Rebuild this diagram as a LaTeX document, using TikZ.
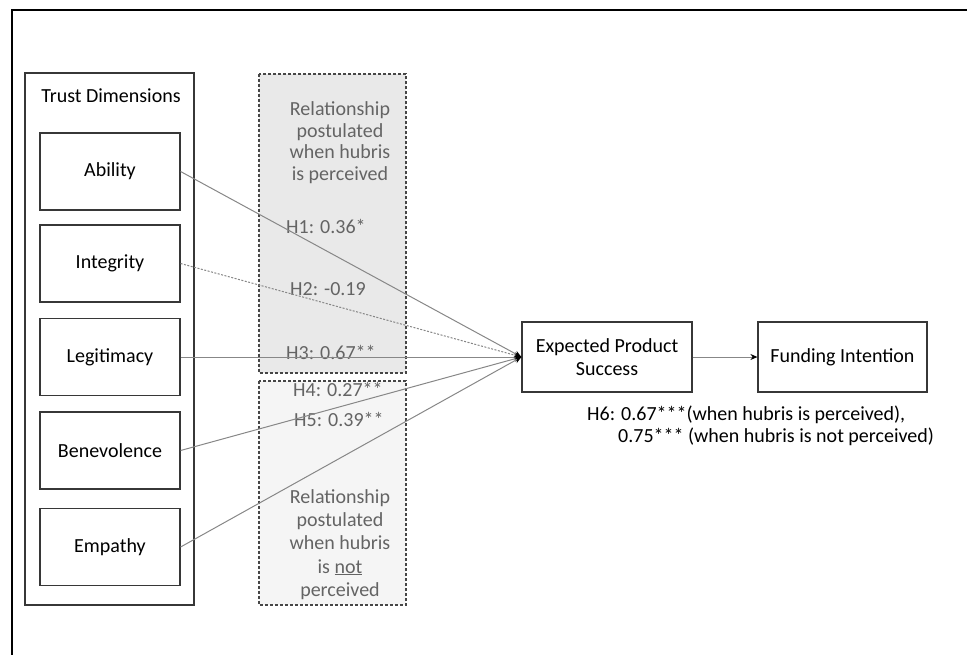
\documentclass[tikz,border=0pt]{standalone}
\usepackage{fontspec}
\setmainfont{Carlito}
\usetikzlibrary{arrows.meta}
\definecolor{boxline}{RGB}{55,55,55}
\definecolor{conn}{RGB}{135,135,135}
\definecolor{txtgray}{RGB}{100,100,100}
\definecolor{fillup}{RGB}{233,233,233}
\definecolor{filllow}{RGB}{245,245,245}
\definecolor{dashline}{RGB}{70,70,70}
\begin{document}
\begin{tikzpicture}[x=1pt,y=-1pt,
  every node/.style={font=\fontsize{20}{23}\selectfont, inner sep=0pt},
  dimbox/.style={draw=boxline, line width=1.2pt, minimum width=140pt, minimum height=77pt},
  constr/.style={draw=boxline, line width=1.2pt, minimum width=170pt, minimum height=70pt, align=center},
  grouptxt/.style={text=txtgray, anchor=base},
  hlabel/.style={text=txtgray, anchor=base west},
  link/.style={draw=conn, line width=1pt, -{Stealth[length=7pt,width=6pt,black]}},
  dotlink/.style={link, dash pattern=on 2pt off 1.5pt}
]
\useasboundingbox (0,0) rectangle (968,655);
% outer frame
\draw[line width=2.7pt] (12,655) -- (12,9.5);
\draw[line width=1.7pt] (11,10) -- (967,10);
% trust dimensions group
\draw[boxline, line width=1.2pt] (25,73) rectangle (194,605);
\node[anchor=base] (td) at (111,103) {Trust Dimensions};
% dashed group boxes
\draw[dashline, fill=fillup, line width=1.3pt, dash pattern=on 3pt off 2pt] (259,74) rectangle (406,373);
\draw[dashline, fill=filllow, line width=1.3pt, dash pattern=on 3pt off 2pt] (259,381) rectangle (406,605);
\node[grouptxt] (u1) at (340,116) {Relationship};
\node[grouptxt] (u2) at (340,137.5) {postulated};
\node[grouptxt] (u3) at (340,159) {when hubris};
\node[grouptxt] (u4) at (340,180.5) {is perceived};
\node[hlabel] (h1) at (286,233) {H1: 0.36*};
\node[hlabel] (h2) at (290,295) {H2: -0.19};
\node[hlabel] (h3) at (286,359) {H3: 0.67**};
\node[hlabel] (h4) at (293,396) {H4: 0.27**};
\node[hlabel] (h5) at (294,426) {H5: 0.39**};
\node[grouptxt] (l1) at (340,503) {Relationship};
\node[grouptxt] (l2) at (340,526.5) {postulated};
\node[grouptxt] (l3) at (340,549.5) {when hubris};
\node[grouptxt] (l4) at (340,573) {is \underline{not}};
\node[grouptxt] (l5) at (340,596) {perceived};
% dimension boxes
\node[dimbox] (abi) at (110,171.5) {Ability};
\node[dimbox] (int) at (110,263.5) {Integrity};
\node[dimbox] (leg) at (110,357) {Legitimacy};
\node[dimbox] (ben) at (110,450.5) {Benevolence};
\node[dimbox] (emp) at (110,547) {Empathy};
% constructs
\node[constr] (eps) at (607,357) {Expected Product\\Success};
\node[constr, minimum width=169pt] (fi) at (842.5,357) {Funding Intention};
% connectors
\draw[link] (abi.east) -- (eps.west);
\draw[dotlink] (int.east) -- (eps.west);
\draw[link] (leg.east) -- (eps.west);
\draw[link] (ben.east) -- (eps.west);
\draw[link] (emp.east) -- (eps.west);
\draw[link] (eps.east) -- (fi.west);
% H6 label
\node[anchor=base west] (h6a) at (587,420) {H6: 0.67***(when hubris is perceived),};
\node[anchor=base west] (h6b) at (618,442) {0.75*** (when hubris is not perceived)};
\end{tikzpicture}
\end{document}
